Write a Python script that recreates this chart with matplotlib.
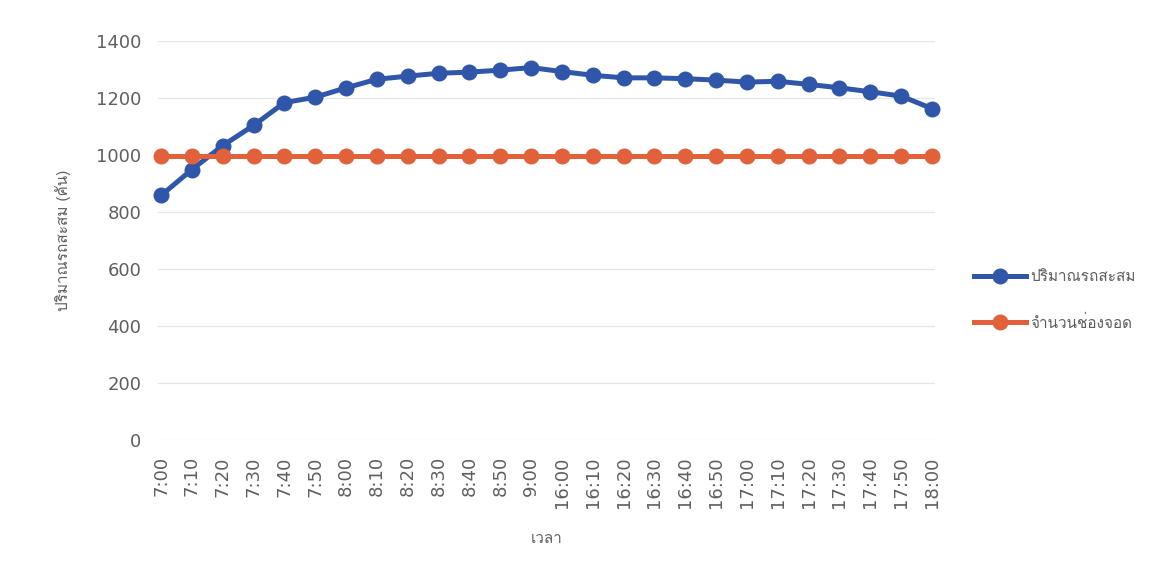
import matplotlib
matplotlib.use("Agg")
import matplotlib.pyplot as plt
from matplotlib import font_manager
from matplotlib.ft2font import FT2Font

# ช่วงเวลาเก็บข้อมูล
times = ["7:00", "7:10", "7:20", "7:30", "7:40", "7:50", "8:00", "8:10", "8:20",
         "8:30", "8:40", "8:50", "9:00", "16:00", "16:10", "16:20", "16:30",
         "16:40", "16:50", "17:00", "17:10", "17:20", "17:30", "17:40", "17:50",
         "18:00"]

# ปริมาณรถสะสม (คัน)
cars = [857, 948, 1032, 1103, 1183, 1202, 1235, 1265, 1276, 1286, 1290, 1297,
        1306, 1292, 1279, 1270, 1270, 1267, 1262, 1255, 1258, 1247, 1235, 1221,
        1206, 1162]

# จำนวนช่องจอด
slots = [995] * len(times)

series_names = ["ปริมาณรถสะสม", "จำนวนช่องจอด"]
yticks = [0, 200, 400, 600, 800, 1000, 1200, 1400]


def find_thai_font():
    # หาฟอนต์ที่มีอักษรไทย
    for f in font_manager.fontManager.ttflist:
        try:
            cmap = FT2Font(f.fname).get_charmap()
        except Exception:
            continue
        if 0x0E1B in cmap and 0x0E04 in cmap:
            return f.name
    return None


thai = find_thai_font()
thai_fams = [thai or "DejaVu Sans", "DejaVu Sans"]
plt.rcParams["font.family"] = ["DejaVu Sans"] + ([thai] if thai else [])

blue = "#3056aa"
orange = "#e1623a"
grey = "#5f5f5f"

fig = plt.figure(figsize=(11.53, 5.83), dpi=100)
ax = fig.add_axes([0.137, 0.246, 0.674, 0.684])

x = range(len(times))
ax.plot(x, cars, color=blue, lw=3.6, marker="o", ms=10.5, label=series_names[0],
        zorder=3, clip_on=False)
ax.plot(x, slots, color=orange, lw=3.6, marker="o", ms=10.5, label=series_names[1],
        zorder=3, clip_on=False)

ax.set_ylim(0, 1400)
ax.set_yticks(yticks)
ax.set_xlim(-0.1, len(times) - 0.9)
ax.set_xticks(list(x))
ax.set_xticklabels(times, rotation=90)
ax.tick_params(axis="both", length=0, colors=grey, labelsize=13)
ax.tick_params(axis="x", pad=12)
ax.tick_params(axis="y", pad=12)
ax.grid(axis="y", color="#e6e6e6", lw=0.9)
ax.set_axisbelow(True)
for s in ax.spines.values():
    s.set_visible(False)

ax.set_xlabel("เวลา", color=grey, fontsize=11, labelpad=17, family=thai_fams)
ax.set_ylabel("ปริมาณรถสะสม (คัน)", color=grey, fontsize=11, labelpad=18, family=thai_fams)

leg = fig.legend(loc="center left", bbox_to_anchor=(0.833, 0.485), frameon=False,
                 labelspacing=2.0, handlelength=3.4, handletextpad=0.3,
                 prop={"family": thai_fams, "size": 11})
for t in leg.get_texts():
    t.set_color(grey)

fig.savefig("out.png", dpi=100)
